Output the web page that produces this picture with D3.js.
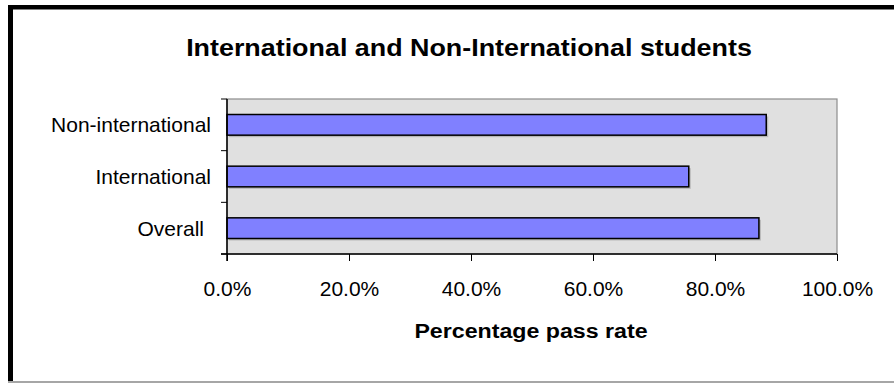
<!DOCTYPE html>
<html>
<head>
<meta charset="utf-8">
<script src="https://cdn.jsdelivr.net/npm/d3@7/dist/d3.min.js"></script>
<style>
  html, body { margin: 0; padding: 0; background: #fff; }
  svg { display: block; font-family: "Liberation Sans", Arial, sans-serif; }
</style>
</head>
<body>
<svg id="chart" width="894" height="383"></svg>
<script>
// Pass rates by student group
const categories = ["Non-international", "International", "Overall"];
const passRates = [0.884, 0.757, 0.872];
const xTicks = [0, 0.2, 0.4, 0.6, 0.8, 1.0];
const chartTitle = "International and Non-International students";
const xAxisTitle = "Percentage pass rate";
const pageHeading = "Pass rates for International and Non-International students";

const svg = d3.select("#chart");
const W = 894, H = 383;

// Stretched text helper: anchored at (x, y), widened by sx
function wideText(parent, x, y, sx, str, opts) {
  const g = parent.append("g").attr("transform", `translate(${x},${y}) scale(${sx},1)`);
  const t = g.append("text")
    .attr("text-anchor", opts.anchor || "middle")
    .attr("font-size", opts.size)
    .attr("font-weight", opts.weight || "normal")
    .attr("fill", "#000")
    .text(str);
  return t;
}

// Page heading sitting above the chart frame
svg.append("text")
  .attr("x", 473).attr("y", 0.2)
  .attr("text-anchor", "middle")
  .attr("font-weight", "bold")
  .attr("font-size", 22)
  .attr("fill", "#555")
  .text(pageHeading);

// Chart frame: heavy black top/left edges, grey bottom edge
svg.append("rect").attr("x", 8).attr("y", 5).attr("width", W).attr("height", 4).attr("fill", "#000");
svg.append("rect").attr("x", 8).attr("y", 9).attr("width", W).attr("height", 1).attr("fill", "#808080");
svg.append("rect").attr("x", 8).attr("y", 5).attr("width", 5).attr("height", 377).attr("fill", "#000");
svg.append("rect").attr("x", 8).attr("y", 381).attr("width", W).attr("height", 2).attr("fill", "#a6a6a6");

// Plot area
const plot = { left: 227, right: 837, top: 99, bottom: 254 };

const x = d3.scaleLinear().domain([0, 1]).range([plot.left, plot.right]);
const y = d3.scaleBand().domain(categories).range([plot.top, plot.bottom]).paddingInner(0.6).paddingOuter(0.3);
const yOuter = d3.scaleBand().domain(categories).range([plot.top, plot.bottom]);

svg.append("rect")
  .attr("x", plot.left).attr("y", plot.top)
  .attr("width", plot.right - plot.left).attr("height", plot.bottom - plot.top)
  .attr("fill", "#e0e0e0")
  .attr("stroke", "#8c8c8c").attr("stroke-width", 1.2);

// Bars with a faint drop shadow
svg.append("g").selectAll("rect.shadow")
  .data(categories)
  .join("rect")
  .attr("class", "shadow")
  .attr("x", x(0) + 2)
  .attr("y", (d) => y(d) + 2)
  .attr("width", (d, i) => x(passRates[i]) - x(0))
  .attr("height", y.bandwidth())
  .attr("fill", "#b8b8b8");

svg.append("g").selectAll("rect.bar")
  .data(categories)
  .join("rect")
  .attr("class", "bar")
  .attr("x", x(0))
  .attr("y", (d) => y(d))
  .attr("width", (d, i) => x(passRates[i]) - x(0))
  .attr("height", y.bandwidth())
  .attr("fill", "#8080ff")
  .attr("stroke", "#000")
  .attr("stroke-width", 1.5);

// X axis
const xAxis = d3.axisBottom(x)
  .tickValues(xTicks)
  .tickFormat(d3.format(".1%"))
  .tickSize(7)
  .tickSizeOuter(0)
  .tickPadding(20);
const gx = svg.append("g").attr("transform", `translate(0,${plot.bottom})`).call(xAxis);
gx.select(".domain").attr("stroke", "#000").attr("stroke-width", 1.5).attr("d", `M${plot.left - 6},0H${plot.right}`);
gx.selectAll(".tick line").attr("stroke", "#000");
gx.selectAll(".tick text")
  .attr("font-size", 21)
  .attr("fill", "#000")
  .attr("dy", "0.71em")
  .attr("font-family", "Liberation Sans, Arial, sans-serif");

// Y axis: ticks at category boundaries, labels centred in each band
const gy = svg.append("g");
gy.append("line")
  .attr("x1", plot.left).attr("x2", plot.left)
  .attr("y1", plot.top).attr("y2", plot.bottom + 7)
  .attr("stroke", "#000").attr("stroke-width", 1.5);
const boundaries = categories.map((d) => yOuter(d)).concat([plot.bottom]);
gy.selectAll("line.tick")
  .data(boundaries)
  .join("line")
  .attr("class", "tick")
  .attr("x1", plot.left - 6).attr("x2", plot.left)
  .attr("y1", (d) => d).attr("y2", (d) => d)
  .attr("stroke", "#000");
gy.selectAll("text")
  .data(categories)
  .join("text")
  .attr("x", (d, i) => (i === categories.length - 1 ? 204 : 211))
  .attr("y", (d) => yOuter(d) + yOuter.bandwidth() / 2)
  .attr("dy", "0.36em")
  .attr("text-anchor", "end")
  .attr("font-size", 21)
  .attr("fill", "#000")
  .text((d) => d);

// Titles
wideText(svg, 469, 56, 1.12, chartTitle, { size: 24, weight: "bold" });
wideText(svg, 531, 338, 1.16, xAxisTitle, { size: 20, weight: "bold" });
</script>
</body>
</html>
